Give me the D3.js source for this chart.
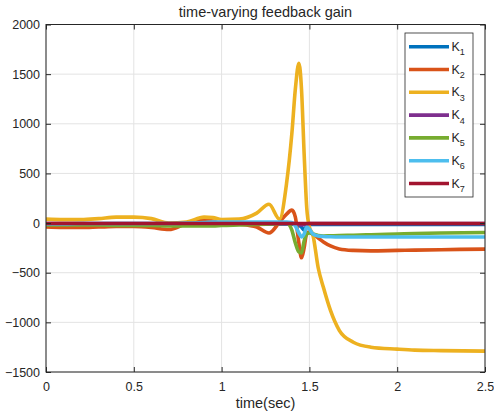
<!DOCTYPE html>
<html>
<head>
  <meta charset="utf-8">
  <title>time-varying feedback gain</title>
  <style>
    body { margin: 0; background: #fff; }
    text { font-family: "Liberation Sans", Arial, sans-serif; fill: #262626; }
  </style>
</head>
<body>
  <script src="https://cdn.jsdelivr.net/npm/d3@7"></script>
  <script>
  'use strict'

  const w = 494
  const h = 416
  const margin = { top: 24.5, right: 9, bottom: 44, left: 46 }

  // sample times (sec), shared by every gain
  const time = [0, 0.1, 0.2, 0.3, 0.4, 0.5, 0.6, 0.7, 0.8, 0.9, 0.95, 1.0, 1.1, 1.2, 1.27, 1.33, 1.37, 1.40, 1.42, 1.44,
    1.455, 1.47, 1.485, 1.50, 1.52, 1.55, 1.58, 1.62, 1.67, 1.75, 1.85, 2.0, 2.1, 2.25, 2.5]

  const k1 = [-10, -10, -10, -10, -10, -10, -10, -10, -10, -10, -10, -10, -10, -10, -10, -10, -10, -10, -15, -25,
    -40, -70, -30, -15, -15, -15, -15, -15, -15, -15, -15, -15, -15, -15, -15]
  const k2 = [-40, -45, -45, -40, -35, -35, -45, -65, -5, 30, 20, 0, -10, -40, -100, 10, 90, 130, 60, -200,
    -350, -250, -100, -90, -110, -150, -190, -230, -260, -275, -280, -275, -272, -268, -262]
  const k3 = [40, 35, 35, 45, 60, 60, 45, 0, 10, 60, 55, 35, 40, 100, 190, 40, 400, 900, 1350, 1610,
    1350, 700, 150, -40, -120, -450, -650, -880, -1080, -1200, -1250, -1270, -1280, -1285, -1290]
  const k4 = [-5, -5, -5, -5, -5, -5, -5, -5, -5, -5, -5, -5, -5, -5, -5, -5, -5, -5, -5, -10,
    -20, -15, -10, -5, -5, -5, -5, -5, -5, -5, -5, -5, -5, -5, -5]
  const k5 = [-20, -20, -20, -20, -25, -25, -25, -30, -30, -30, -30, -25, -20, -15, -10, -5, 0, -70, -200, -290,
    -300, -180, -110, -100, -110, -125, -130, -128, -125, -122, -118, -110, -105, -100, -95]
  const k6 = [-10, -10, -5, -5, -5, -5, -5, -5, 0, 5, 10, 10, 10, 10, 10, 10, 10, 5, -30, -100,
    -140, -110, -40, -60, -110, -130, -135, -138, -140, -140, -140, -140, -140, -140, -140]
  const k7 = [-5, -5, -5, -5, -5, -5, -5, -5, -5, -5, -5, -5, -5, -5, -5, -5, -5, -5, -5, -5,
    -5, -5, -5, -5, -5, -5, -5, -5, -5, -5, -5, -5, -5, -5, -5]

  const names = ['1', '2', '3', '4', '5', '6', '7']
  const colors = ['#0072BD', '#D95319', '#EDB120', '#7E2F8E', '#77AC30', '#4DBEEE', '#A2142F']
  const gains = [k1, k2, k3, k4, k5, k6, k7]

  const xTicks = [0, 0.5, 1, 1.5, 2, 2.5]
  const yTicks = [-1500, -1000, -500, 0, 500, 1000, 1500, 2000]

  const svg = d3.select('body')
    .append('svg')
    .attr('width', w)
    .attr('height', h)

  const x = d3.scaleLinear().domain([0, 2.5]).range([margin.left, w - margin.right])
  const y = d3.scaleLinear().domain([-1500, 2000]).range([h - margin.bottom, margin.top])

  // grid
  svg.append('g').selectAll('line')
    .data(xTicks)
    .enter()
    .append('line')
    .attr('x1', d => x(d)).attr('x2', d => x(d))
    .attr('y1', y(-1500)).attr('y2', y(2000))
    .attr('stroke', '#e3e3e3')
  svg.append('g').selectAll('line')
    .data(yTicks)
    .enter()
    .append('line')
    .attr('x1', x(0)).attr('x2', x(2.5))
    .attr('y1', d => y(d)).attr('y2', d => y(d))
    .attr('stroke', '#e3e3e3')

  svg.append('clipPath').attr('id', 'plot')
    .append('rect')
    .attr('x', x(0)).attr('y', y(2000))
    .attr('width', x(2.5) - x(0)).attr('height', y(-1500) - y(2000))

  const line = d3.line()
    .x((d, i) => x(time[i]))
    .y(d => y(d))
    .curve(d3.curveMonotoneX)

  svg.append('g')
    .attr('clip-path', 'url(#plot)')
    .selectAll('path')
    .data(gains)
    .enter()
    .append('path')
    .attr('d', d => line(d))
    .attr('fill', 'none')
    .attr('stroke', (d, i) => colors[i])
    .attr('stroke-width', 3.6)
    .attr('stroke-linejoin', 'round')

  // axes, ticks pointing inward like matlab
  const styleAxis = g => {
    g.select('.domain').remove()
    g.selectAll('line').attr('stroke', '#262626')
    g.selectAll('text').attr('font-size', '12.5px').attr('fill', '#262626')
      .attr('font-family', '"Liberation Sans", Arial, sans-serif')
  }

  svg.append('g')
    .attr('transform', `translate(0,${y(-1500)})`)
    .call(d3.axisBottom(x).tickValues(xTicks).tickSize(-5).tickPadding(10.5).tickFormat(d3.format('')))
    .call(styleAxis)
  svg.append('g')
    .attr('transform', `translate(${x(0)},0)`)
    .call(d3.axisLeft(y).tickValues(yTicks).tickSize(-5).tickPadding(6).tickFormat(d3.format('')))
    .call(styleAxis)
  svg.append('g')
    .attr('transform', `translate(0,${y(2000)})`)
    .call(d3.axisTop(x).tickValues(xTicks).tickSize(-5).tickFormat(''))
    .call(styleAxis)
  svg.append('g')
    .attr('transform', `translate(${x(2.5)},0)`)
    .call(d3.axisRight(y).tickValues(yTicks).tickSize(-5).tickFormat(''))
    .call(styleAxis)

  svg.append('rect')
    .attr('x', x(0)).attr('y', y(2000))
    .attr('width', x(2.5) - x(0)).attr('height', y(-1500) - y(2000))
    .attr('fill', 'none')
    .attr('stroke', '#262626')

  svg.append('text')
    .attr('x', (x(0) + x(2.5)) / 2)
    .attr('y', 17)
    .attr('text-anchor', 'middle')
    .attr('font-size', '14.5px')
    .text('time-varying feedback gain')

  svg.append('text')
    .attr('x', (x(0) + x(2.5)) / 2)
    .attr('y', 408)
    .attr('text-anchor', 'middle')
    .attr('font-size', '14.5px')
    .text('time(sec)')

  // legend
  const legend = svg.append('g').attr('transform', 'translate(405,33)')
  legend.append('rect')
    .attr('width', 68).attr('height', 164)
    .attr('fill', '#fff')
    .attr('stroke', '#262626')
    .attr('stroke-width', 0.8)

  const item = legend.selectAll('g.item')
    .data(names)
    .enter()
    .append('g')
    .attr('class', 'item')
    .attr('transform', (d, i) => `translate(0,${13.7 + i * 22.8})`)
  item.append('line')
    .attr('x1', 4).attr('x2', 44)
    .attr('stroke', (d, i) => colors[i])
    .attr('stroke-width', 3.6)
  const label = item.append('text')
    .attr('x', 46.5)
    .attr('y', 4)
    .attr('font-size', '12.5px')
  label.append('tspan').text('K')
  label.append('tspan')
    .attr('dy', 4.5)
    .attr('font-size', '9px')
    .text(d => d)
  </script>
</body>
</html>
